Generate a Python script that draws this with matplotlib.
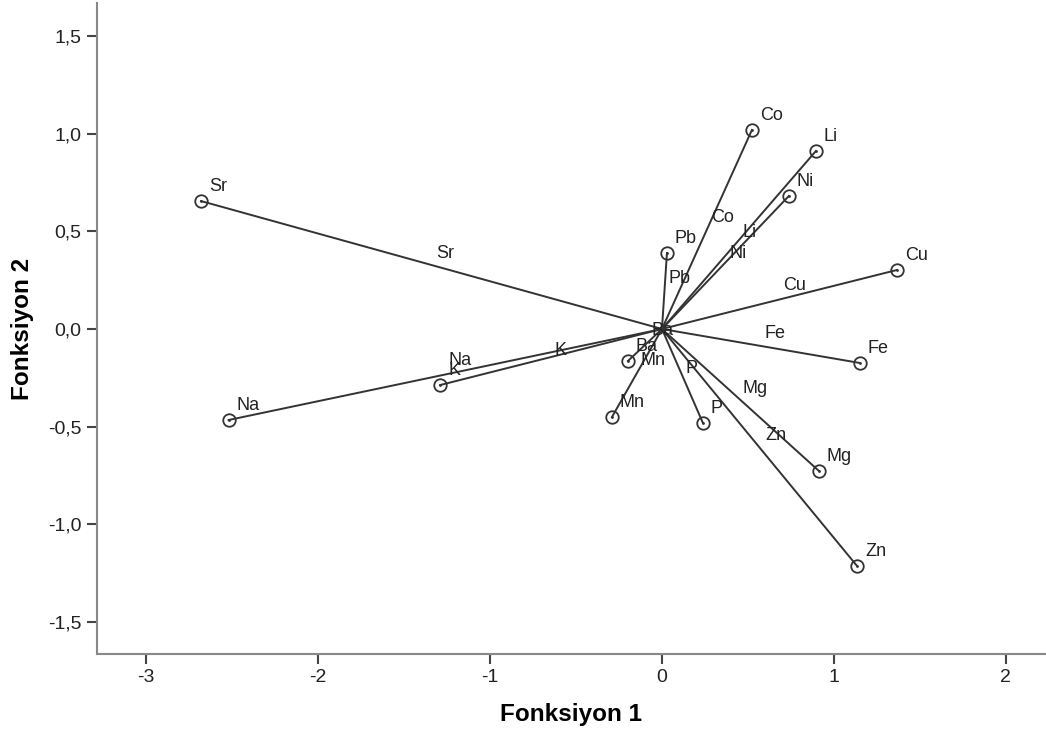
import numpy as np
import matplotlib.pyplot as plt

plt.rcParams['font.family'] = ['Liberation Sans', 'DejaVu Sans']

# degiskenler
elementler = ['Sr', 'Na', 'K', 'Ba', 'Mn', 'P', 'Zn', 'Mg', 'Fe', 'Cu', 'Ni', 'Li', 'Co', 'Pb']

# dis noktalar (daire ile)
dis_x = [-2.68, -2.52, -1.29, -0.198, -0.291, 0.238, 1.134, 0.913, 1.151, 1.366, 0.738, 0.895, 0.523, 0.029]
dis_y = [0.655, -0.466, -0.287, -0.164, -0.451, -0.481, -1.213, -0.727, -0.174, 0.302, 0.681, 0.911, 1.019, 0.389]

# ic noktalar (sadece etiket)
ic_x = [-1.36, -1.29, -0.674, -0.105, -0.174, 0.093, 0.552, 0.424, 0.552, 0.657, 0.349, 0.424, 0.238, -0.006]
ic_y = [0.312, -0.236, -0.184, -0.082, -0.236, -0.276, -0.620, -0.379, -0.097, 0.148, 0.312, 0.420, 0.497, 0.184]

y_ticks = [-1.5, -1.0, -0.5, 0.0, 0.5, 1.0, 1.5]
y_tick_labels = ['-1,5', '-1,0', '-0,5', '0,0', '0,5', '1,0', '1,5']
x_ticks = [-3, -2, -1, 0, 1, 2]
x_tick_labels = ['-3', '-2', '-1', '0', '1', '2']

fig = plt.figure(figsize=(10.46, 7.40), dpi=100)
ax = fig.add_axes([97 / 1046, (740 - 654) / 740, (1046 - 97) / 1046, (654 - 3) / 740])

renk = '#333333'
for i, el in enumerate(elementler):
    ax.plot([0, dis_x[i]], [0, dis_y[i]], color=renk, lw=1.4, zorder=2)
    ax.plot(dis_x[i], dis_y[i], 'o', ms=9, mfc='none', mec=renk, mew=1.3, zorder=3)
    ax.plot(dis_x[i], dis_y[i], '.', ms=2, color=renk, zorder=3)
    ax.annotate(el, (dis_x[i], dis_y[i]), xytext=(8, 10), textcoords='offset pixels',
                ha='left', va='baseline', fontsize=13, color='#222222')
    ax.annotate(el, (ic_x[i], ic_y[i]), xytext=(8, 10), textcoords='offset pixels',
                ha='left', va='baseline', fontsize=13, color='#222222')

ax.set_xlim(-3.285, 2.233)
ax.set_ylim(-1.664, 1.669)
ax.set_xticks(x_ticks)
ax.set_xticklabels(x_tick_labels)
ax.set_yticks(y_ticks)
ax.set_yticklabels(y_tick_labels)
ax.tick_params(length=7, width=1.5, color='#444444', labelsize=14, labelcolor='#222222', pad=4)

for s in ['top', 'right']:
    ax.spines[s].set_visible(False)
for s in ['left', 'bottom']:
    ax.spines[s].set_color('#888888')
    ax.spines[s].set_linewidth(1.5)

ax.set_xlabel('Fonksiyon 1', fontsize=17.5, fontweight='bold', labelpad=12)
ax.set_ylabel('Fonksiyon 2', fontsize=17.5, fontweight='bold', labelpad=10)

fig.savefig('out.png', dpi=100)
